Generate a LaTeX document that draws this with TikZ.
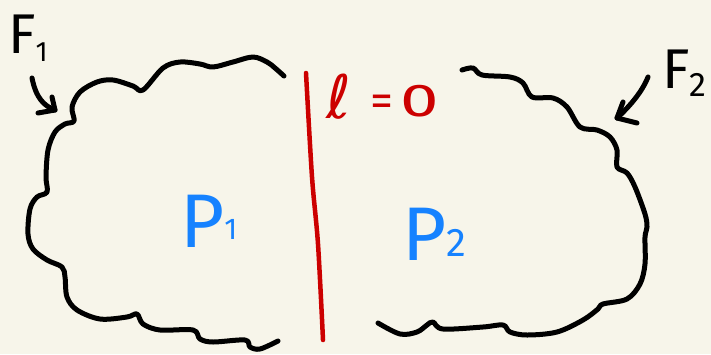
\documentclass[tikz,border=0pt]{standalone}
\usepackage{fontspec}
\usepackage{graphicx}
\setsansfont{Fira Sans}
\newfontfamily\ellfont{DejaVu Sans}
\usetikzlibrary{arrows.meta}
\definecolor{paper}{HTML}{F7F5EA}
\definecolor{inkred}{HTML}{CC0000}
\definecolor{inkblue}{HTML}{1682FF}
\tikzset{
  stroke/.style={line width=5pt, line cap=round, line join=round},
  blob/.style={stroke, black},
  lbl/.style={inner sep=0pt, font=\sffamily},
}
\begin{document}
\begin{tikzpicture}[x=1pt,y=-1pt]
\fill[paper] (0,0) rectangle (711,354);
\useasboundingbox (0,0) rectangle (711,354);
% left blob
\draw[blob] plot[smooth, tension=0.55] coordinates {
(284,76) (275,68) (267,62) (253,57) (233,62) (213,67) (200,64) (180,62) (163,68) (143,90)
(133,86) (113,80) (97,82) (80,92) (72,107) (74,121) (65,124) (55,132) (48,150) (46,177)
(47,192) (37,197) (30,209) (28,234) (33,249) (47,260) (62,267) (65,277) (67,297) (77,310)
(100,319) (127,317) (137,314) (143,324) (160,330) (193,330) (200,339) (213,342) (245,340)
(250,347) (260,349) (278,341)};
% right blob
\draw[blob] plot[smooth, tension=0.55] coordinates {
(462,70) (473,68) (482,75) (510,77) (523,83) (532,97) (553,98) (567,107) (580,127) (597,130)
(610,137) (617,150) (617,167) (627,173) (635,187) (645,214) (647,227) (645,237) (645,264)
(640,284) (627,299) (603,304) (598,309) (583,320) (557,332) (527,335) (510,332) (503,325)
(483,327) (443,329) (433,322) (427,325) (417,332) (400,334) (378,323)};
% red line
\draw[stroke, inkred, line width=4.5pt] plot[smooth] coordinates {(306,73) (312,177) (318,244) (323,340)};
% labels
\node[lbl, anchor=base west, inkred] (ell) at (326,118) {\fontsize{60}{64}\selectfont\ellfont ℓ};
\node[lbl, anchor=base west, inkred] (eq) at (370,116) {\fontsize{46}{50}\selectfont =\,\scalebox{1.5}[1]{0}};
\node[lbl, anchor=base west, inkblue] (p1) at (180,247) {\fontsize{76}{80}\selectfont P\raisebox{8pt}{\fontsize{30}{32}\selectfont 1}};
\node[lbl, anchor=base west, inkblue] (p2) at (402,260) {\fontsize{76}{80}\selectfont P\raisebox{4pt}{\fontsize{40}{42}\selectfont 2}};
\node[lbl, anchor=base west] (f1) at (8,53) {\fontsize{56}{60}\selectfont F\raisebox{-8pt}{\fontsize{28}{30}\selectfont 1}};
\node[lbl, anchor=base west] (f2) at (662,88) {\fontsize{56}{60}\selectfont F\raisebox{-8pt}{\fontsize{34}{36}\selectfont 2}};
% arrows
\coordinate (t1) at (55,110);
\coordinate (t2) at (617,118);
\draw[stroke] (32,78) .. controls (36,98) and (44,106) .. (t1);
\draw[stroke] (38,113) -- (t1) -- (52,97);
\draw[stroke] (648,77) .. controls (642,92) and (630,106) .. (t2);
\draw[stroke] (637,123) -- (t2) -- (623,102);
\end{tikzpicture}
\end{document}
